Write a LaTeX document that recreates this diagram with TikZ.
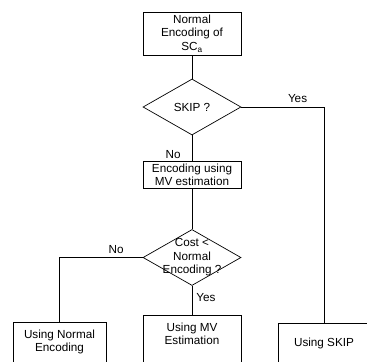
\documentclass[tikz,border=0pt]{standalone}
\usepackage{fontspec}
\setmainfont{Liberation Sans}
\usetikzlibrary{shapes.geometric}
\tikzset{>=latex}

\begin{document}
\begin{tikzpicture}[x=0.03cm,y=-0.03cm,line width=0.6pt,
  every node/.style={font=\fontsize{10}{11.5}\selectfont},
  blk/.style={draw,align=center,inner sep=2pt,minimum width=2.94cm},
  endblk/.style={blk,anchor=north,text height=23.2pt,text depth=2cm},
  decision/.style={draw,diamond,inner sep=0pt,minimum width=2.94cm,minimum height=1.68cm}]
\useasboundingbox (0,0) rectangle (367,361);
\clip (0,0) rectangle (367,361);
\node[blk,minimum height=1.29cm] (start) at (192,33.5) {Normal\\Encoding of\\SC\textsubscript{a}};
\node[decision] (skip) at (192,107) {SKIP ?};
\node[blk,minimum height=0.78cm] (est) at (192,175) {Encoding using\\MV estimation};
\node[decision,label={[align=center]center:Cost <\\Normal\\Encoding ?}] (cost) at (192,257.5) {};
\node[endblk,minimum width=2.79cm] (normal) at (59.5,322) {Using Normal\\Encoding};
\node[endblk] (mv) at (192,315) {Using MV\\Estimation};
\node[endblk,minimum width=2.76cm,text height=17.6pt] (useskip) at (324,323) {Using SKIP};
\draw (start) -- (skip);
\draw (skip) -- node[pos=0.75,left,xshift=-6pt]{No} (est);
\draw (skip.east) -| node[pos=0.34,above]{Yes} (useskip.north);
\draw (est) -- (cost);
\draw (cost.west) -| node[pos=0.16,above]{No} (normal.north);
\draw (cost) -- node[pos=0.4,right]{Yes} (mv);
\end{tikzpicture}
\end{document}
